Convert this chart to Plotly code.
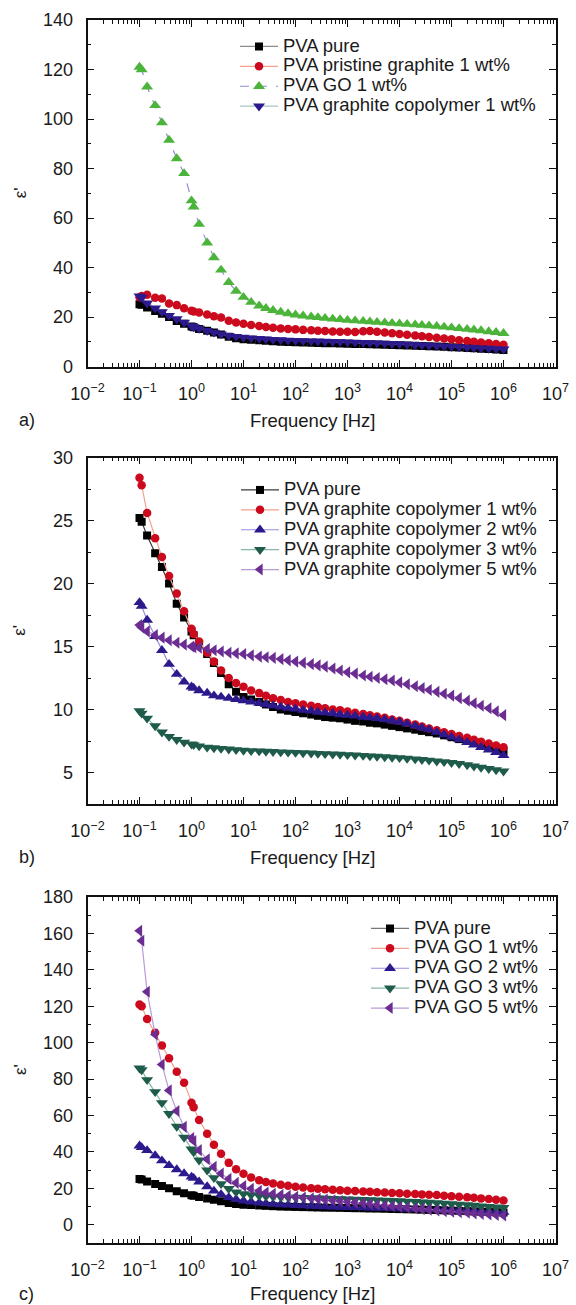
import plotly.graph_objects as go

# ---------------- data ----------------
freq = [0.1, 0.11, 0.14, 0.2, 0.27, 0.37, 0.52, 0.72,
        1.0, 1.1, 1.4, 2.0, 2.7, 3.7, 5.2, 7.2,
        10, 14, 20, 27, 37, 52, 72,
        100, 140, 200, 270, 370, 520, 720,
        1e3, 1.4e3, 2e3, 2.7e3, 3.7e3, 5.2e3, 7.2e3,
        1e4, 1.4e4, 2e4, 2.7e4, 3.7e4, 5.2e4, 7.2e4,
        1e5, 1.4e5, 2e5, 2.7e5, 3.7e5, 5.2e5, 7.2e5,
        1e6]

pva_pure = [25.2, 24.9, 23.8, 22.4, 21.3, 20.0, 18.4, 17.3,
            16.2, 15.9, 15.2, 14.4, 13.7, 12.9, 12.0, 11.4,
            11.0, 10.8, 10.6, 10.4, 10.2, 10.0, 9.9,
            9.8, 9.7, 9.6, 9.5, 9.4, 9.35, 9.3,
            9.2, 9.1, 9.05, 8.95, 8.9, 8.8, 8.7,
            8.6, 8.5, 8.4, 8.3, 8.2, 8.1, 7.95,
            7.8, 7.65, 7.5, 7.35, 7.2, 7.05, 6.9,
            6.7]

pristine_1 = [28.0, 28.5, 29.0, 27.8, 27.5, 25.5, 24.8, 23.5,
              22.5, 22.2, 21.8, 21.0, 20.3, 19.8, 18.5, 17.8,
              17.3, 16.8, 16.4, 16.0, 15.7, 15.4, 15.2,
              15.0, 14.8, 14.6, 14.4, 14.3, 14.1, 14.0,
              14.0, 13.9, 14.2, 14.3, 14.0, 13.7, 13.4,
              13.1, 12.8, 12.5, 12.2, 11.9, 11.6, 11.3,
              11.0, 10.6, 10.3, 10.0, 9.7, 9.4, 9.1,
              8.8]

go_1 = [121, 120, 113, 105.5, 98.5, 91.5, 84, 78,
        67, 64.5, 57.5, 50, 44, 39, 34, 30.5,
        28, 26, 24.5, 23.5, 22.7, 22.0, 21.4,
        20.9, 20.5, 20.1, 19.8, 19.5, 19.2, 19.0,
        18.7, 18.5, 18.3, 18.1, 17.9, 17.7, 17.5,
        17.3, 17.1, 16.9, 16.7, 16.5, 16.3, 16.0,
        15.7, 15.4, 15.1, 14.8, 14.5, 14.1, 13.8,
        13.4]

copoly_1 = [28.4, 27.8, 25.6, 23.6, 22.1, 20.6, 19.2, 17.8,
            16.4, 16.0, 15.4, 14.5, 13.8, 13.1, 12.5, 12.1,
            11.8, 11.5, 11.3, 11.1, 10.9, 10.75, 10.6,
            10.5, 10.4, 10.3, 10.2, 10.1, 10.0, 9.95,
            9.85, 9.75, 9.65, 9.55, 9.45, 9.35, 9.2,
            9.1, 8.95, 8.8, 8.65, 8.5, 8.35, 8.2,
            8.05, 7.9, 7.75, 7.6, 7.45, 7.3, 7.15,
            7.0]

copoly_2 = [18.5, 18.2, 17.1, 15.8, 14.7, 13.6, 12.8, 12.2,
            11.8, 11.7, 11.5, 11.3, 11.1, 11.0, 10.9, 10.8,
            10.7, 10.6, 10.5, 10.4, 10.3, 10.2, 10.1,
            10.05, 9.95, 9.9, 9.8, 9.75, 9.7, 9.6,
            9.55, 9.5, 9.4, 9.35, 9.3, 9.2, 9.1,
            9.0, 8.85, 8.7, 8.55, 8.4, 8.2, 8.0,
            7.8, 7.6, 7.4, 7.2, 7.0, 6.8, 6.6,
            6.35]

copoly_3 = [9.9, 9.7, 9.3, 8.7, 8.2, 7.85, 7.6, 7.4,
            7.25, 7.2, 7.1, 7.0, 6.95, 6.9, 6.85, 6.8,
            6.75, 6.72, 6.7, 6.67, 6.65, 6.62, 6.6,
            6.58, 6.55, 6.53, 6.5, 6.48, 6.45, 6.43,
            6.4, 6.37, 6.34, 6.3, 6.27, 6.24, 6.2,
            6.17, 6.12, 6.07, 6.02, 5.97, 5.9, 5.85,
            5.78, 5.7, 5.6, 5.5, 5.4, 5.3, 5.2,
            5.1]

copoly_5 = [16.7, 16.5, 16.2, 15.9, 15.7, 15.5, 15.3, 15.15,
            15.0, 14.95, 14.9, 14.8, 14.7, 14.6, 14.5, 14.45,
            14.4, 14.3, 14.2, 14.15, 14.1, 14.0, 13.9,
            13.8, 13.7, 13.6, 13.5, 13.4, 13.25, 13.1,
            12.95, 12.85, 12.7, 12.6, 12.5, 12.4, 12.3,
            12.15, 12.0, 11.85, 11.7, 11.55, 11.4, 11.25,
            11.1, 10.9, 10.7, 10.5, 10.3, 10.1, 9.85,
            9.55]

go_2 = [43.4, 42.5, 40.8, 38.0, 35.2, 32.6, 30.3, 28.1,
        26.3, 25.6, 23.6, 21.0, 18.6, 16.7, 15.0, 14.0,
        13.2, 12.6, 12.1, 11.7, 11.4, 11.1, 10.9,
        10.7, 10.5, 10.3, 10.15, 10.0, 9.85, 9.7,
        9.6, 9.5, 9.4, 9.3, 9.2, 9.1, 9.0,
        8.9, 8.8, 8.7, 8.6, 8.5, 8.4, 8.25,
        8.1, 7.95, 7.8, 7.65, 7.5, 7.35, 7.2,
        7.0]

go_3 = [86, 85, 79.6, 73, 67, 61, 54, 48,
        41.5, 40, 35.5, 30, 25.8, 22.5, 19.8, 18.0,
        17.0, 16.4, 16.0, 15.7, 15.5, 15.3, 15.1,
        15.0, 14.85, 14.7, 14.6, 14.5, 14.35, 14.2,
        14.1, 14.0, 13.85, 13.7, 13.6, 13.45, 13.3,
        13.1, 12.9, 12.7, 12.5, 12.3, 12.05, 11.8,
        11.5, 11.2, 10.9, 10.6, 10.3, 10.0, 9.7,
        9.4]

go_5 = [161.5, 156, 128, 104.5, 88, 73.8, 62.5, 53.8,
        47.6, 46, 41, 36, 31.8, 28.2, 25.2, 23.0,
        21.3, 19.8, 18.6, 17.7, 17.0, 16.4, 15.9,
        15.4, 15.0, 14.6, 14.2, 13.8, 13.4, 13.0,
        12.6, 12.2, 11.8, 11.4, 11.0, 10.6, 10.2,
        9.8, 9.4, 9.0, 8.6, 8.3, 7.9, 7.5,
        7.2, 6.9, 6.6, 6.3, 6.0, 5.7, 5.4,
        5.1]

x_tick_vals = [1e-2, 1e-1, 1e0, 1e1, 1e2, 1e3, 1e4, 1e5, 1e6, 1e7]
x_tick_text = ["10<sup>\u22122</sup>", "10<sup>\u22121</sup>", "10<sup>0</sup>", "10<sup>1</sup>",
               "10<sup>2</sup>", "10<sup>3</sup>", "10<sup>4</sup>", "10<sup>5</sup>",
               "10<sup>6</sup>", "10<sup>7</sup>"]

# ---------------- style ----------------
FONT = "Liberation Sans, Arial, sans-serif"
TXT = "#1a1a1a"
C_BLACK = "#000000"
C_RED = "#cc0a1e"
C_GREEN = "#4cb43a"
C_NAVY = "#2c1a8c"
C_DGREEN = "#1f5b4b"
C_PURPLE = "#6b2d91"

W, H = 576, 1305
X0, X1 = 87.5, 555.5
panels = [  # top, bottom in px
    (20, 366.5),
    (457.5, 804),
    (897, 1243),
]

LEG_FS = 18.5  # visible legend text size (row pitch follows the smaller legend font)

fig = go.Figure()


def add(x_i, name, y, mcolor, lcolor, symbol, size, dash="solid", legend="legend"):
    fig.add_trace(go.Scatter(
        x=freq, y=y, name=f'<span style="font-size:{LEG_FS}px">{name}</span>',
        mode="lines+markers",
        xaxis="x" if x_i == 1 else f"x{x_i}",
        yaxis="y" if x_i == 1 else f"y{x_i}",
        legend=legend,
        line=dict(color=lcolor, width=1.2, dash=dash),
        marker=dict(color=mcolor, symbol=symbol, size=size, line=dict(width=0)),
    ))


SQ, CI, TR = 8, 8.5, 10.5

# panel a
add(1, "PVA pure", pva_pure, C_BLACK, "#8c8c8c", "square", SQ)
add(1, "PVA pristine graphite 1 wt%", pristine_1, C_RED, "#f4a090", "circle", CI)
add(1, "PVA GO 1 wt%", go_1, C_GREEN, "#8f8fd8", "triangle-up", TR, dash="dash")
add(1, "PVA graphite copolymer 1 wt%", copoly_1, C_NAVY, "#a8c4c4", "triangle-down", TR)

# panel b
add(2, "PVA pure", pva_pure, C_BLACK, "#3a3a3a", "square", SQ, legend="legend2")
add(2, "PVA graphite copolymer 1 wt%", copoly_1, C_RED, "#f4a090", "circle", CI, legend="legend2")
add(2, "PVA graphite copolymer 2 wt%", copoly_2, C_NAVY, "#9a8ce0", "triangle-up", TR, legend="legend2")
add(2, "PVA graphite copolymer 3 wt%", copoly_3, C_DGREEN, "#88b8a8", "triangle-down", TR, legend="legend2")
add(2, "PVA graphite copolymer 5 wt%", copoly_5, C_PURPLE, "#b89ad6", "triangle-left", TR, legend="legend2")

# panel c
add(3, "PVA pure", pva_pure, C_BLACK, "#777777", "square", SQ, legend="legend3")
add(3, "PVA GO 1 wt%", go_1, C_RED, "#f4a090", "circle", CI, legend="legend3")
add(3, "PVA GO 2 wt%", go_2, C_NAVY, "#9a8ce0", "triangle-up", TR, legend="legend3")
add(3, "PVA GO 3 wt%", go_3, C_DGREEN, "#88b8a8", "triangle-down", TR, legend="legend3")
add(3, "PVA GO 5 wt%", go_5, C_PURPLE, "#b89ad6", "triangle-left", TR, legend="legend3")

y_ranges = [(0, 140, 20, 10), (2.5, 30, 5, 2.5), (-10, 180, 20, 10)]

layout = dict(
    width=W, height=H, margin=dict(l=0, r=0, t=0, b=0, autoexpand=False),
    paper_bgcolor="white", plot_bgcolor="white",
    font=dict(family=FONT, size=18, color=TXT),
    showlegend=True,
)

axis_common = dict(
    showline=True, linecolor="#111111", linewidth=1.6, mirror="allticks",
    ticks="inside", ticklen=7, tickwidth=1.2, tickcolor="#111111",
    showgrid=False, zeroline=False, automargin=False,
    tickfont=dict(family=FONT, size=18, color=TXT),
)

for i, ((top, bot), (ymin, ymax, dt, mdt)) in enumerate(zip(panels, y_ranges), start=1):
    sx = "" if i == 1 else str(i)
    layout[f"xaxis{sx}"] = dict(
        axis_common, type="log", range=[-2, 7], domain=[X0 / W, X1 / W],
        anchor=f"y{sx}", tickvals=x_tick_vals, ticktext=x_tick_text,
        ticklabelstandoff=10,
        minor=dict(ticks="inside", ticklen=4, tickwidth=1, tickcolor="#111111", dtick="D1", showgrid=False),
    )
    layout[f"yaxis{sx}"] = dict(
        axis_common, range=[ymin, ymax], domain=[1 - bot / H, 1 - top / H],
        anchor=f"x{sx}", tick0=0, dtick=dt, ticklabelstandoff=9,
        minor=dict(ticks="inside", ticklen=4, tickwidth=1, tickcolor="#111111", dtick=mdt, tick0=0, showgrid=False),
    )

legend_common = dict(
    font=dict(family=FONT, size=13, color=TXT), bgcolor="rgba(0,0,0,0)",
    borderwidth=0, xanchor="left", yanchor="top", itemwidth=38,
    xref="paper", yref="paper",
)
layout["legend"] = dict(legend_common, x=235 / W, y=1 - 31.5 / H)
layout["legend2"] = dict(legend_common, x=236 / W, y=1 - 475 / H)
layout["legend3"] = dict(legend_common, x=366 / W, y=1 - 913.5 / H)

annotations = []
label_rows = [(420, "a)"), (857, "b)"), (1293.5, "c)")]
for (yy, lab), (top, bot) in zip(label_rows, panels):
    annotations.append(dict(text=lab, x=17 / W, y=1 - yy / H, xref="paper", yref="paper",
                            xanchor="left", yanchor="middle", showarrow=False,
                            font=dict(family=FONT, size=18, color=TXT)))
    annotations.append(dict(text="Frequency [Hz]", x=312.5 / W, y=1 - yy / H, xref="paper", yref="paper",
                            xanchor="center", yanchor="middle", showarrow=False,
                            font=dict(family=FONT, size=18.5, color=TXT)))
    annotations.append(dict(text="\u03b5'", x=20 / W, y=1 - (top + bot) / 2 / H, xref="paper", yref="paper",
                            xanchor="center", yanchor="middle", showarrow=False, textangle=-90,
                            font=dict(family=FONT, size=17, color=TXT)))
layout["annotations"] = annotations

fig.update_layout(**layout)
fig.write_html("out.html")
